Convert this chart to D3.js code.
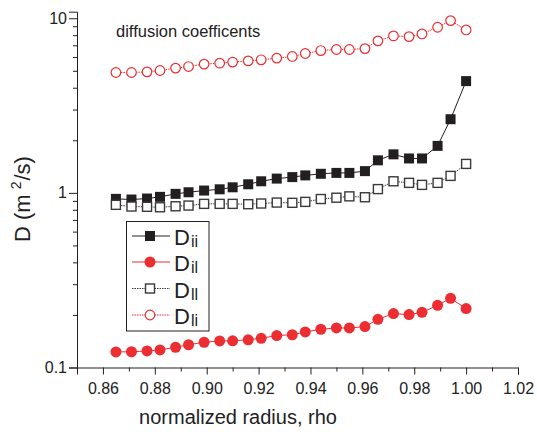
<!DOCTYPE html>
<html><head><meta charset="utf-8">
<script src="https://cdn.jsdelivr.net/npm/d3@7"></script>
<style>body{margin:0;background:#fff}text{font-family:Arial,"Liberation Sans",sans-serif}</style>
</head><body><svg id="c" width="537" height="432"></svg>
<script>
const rho = [0.865,0.871,0.877,0.882,0.888,0.893,0.899,0.905,0.910,0.916,0.921,0.927,0.933,0.938,0.944,0.950,0.955,0.961,0.966,0.972,0.978,0.983,0.989,0.994,1.000];
const Dii = [0.924,0.916,0.928,0.949,0.987,1.008,1.031,1.048,1.076,1.120,1.165,1.207,1.231,1.259,1.286,1.301,1.301,1.332,1.536,1.662,1.574,1.574,1.858,2.641,4.365];
const Dil = [0.1228,0.1231,0.1244,0.1261,0.1306,0.1350,0.1395,0.1419,0.1422,0.1441,0.1470,0.1524,0.1540,0.1598,0.1656,0.1684,0.1684,0.1715,0.1888,0.2035,0.2009,0.2070,0.2270,0.2489,0.2174];
const Dll = [0.854,0.835,0.832,0.827,0.838,0.846,0.865,0.865,0.865,0.861,0.869,0.880,0.877,0.888,0.922,0.938,0.955,0.944,1.051,1.165,1.141,1.111,1.141,1.251,1.465];
const Dli = [4.89,4.89,4.93,5.02,5.18,5.29,5.46,5.53,5.61,5.70,5.78,5.91,6.04,6.28,6.53,6.62,6.62,6.70,7.42,7.92,7.85,8.13,8.88,9.69,8.57];
const xTicks = [0.86,0.88,0.90,0.92,0.94,0.96,0.98,1.00,1.02];
const xMinor = [0.87,0.89,0.91,0.93,0.95,0.97,0.99,1.01];
const yTicks = [0.1,1,10];
const yTickLabels = ["0.1","1","10"];
const seriesNames = ["ii","il","ll","li"];
const title = "diffusion coefficents";
const xTitle = "normalized radius, rho";

const RED = "#ec2d32", BLK = "#231f20", GRY = "#3a3a3a";
const svg = d3.select("#c");
const x = d3.scaleLinear().domain([0.85,1.02]).range([77,518]);
const y = d3.scaleLog().domain([0.1,10.9]).range([367.5,11.7]);

// axes
const xa = svg.append("g").attr("transform","translate(0,"+y(0.1)+")");
xa.call(d3.axisBottom(x).tickValues(xTicks).tickSize(7).tickFormat(d3.format(".2f")));
xa.append("g").call(d3.axisBottom(x).tickValues(xMinor).tickSize(4).tickFormat(""));
xa.selectAll(".domain").attr("stroke",BLK);
xa.selectAll("g g .domain").remove();
xa.selectAll("line").attr("stroke",BLK);
xa.selectAll("text").attr("font-size",16).attr("fill","#222").attr("dy","1.05em").style("font-family","Arial, Liberation Sans");

const ya = svg.append("g").attr("transform","translate("+x(0.85)+",0)");
ya.call(d3.axisLeft(y).tickValues(yTicks).tickSize(8).tickFormat((d,i)=>yTickLabels[i]));
const yMinor = [];
[0.1,1].forEach(b=>{for(let k=2;k<=9;k++) yMinor.push(b*k);});
ya.append("g").call(d3.axisLeft(y).tickValues(yMinor).tickSize(4).tickFormat(""));
ya.selectAll("g g .domain").remove();
ya.selectAll(".domain").attr("stroke",BLK);
ya.selectAll("line").attr("stroke",BLK);
ya.selectAll("text").attr("font-size",16).attr("fill","#222").attr("x",-10).style("font-family","Arial, Liberation Sans");

// titles
svg.append("text").attr("x",116).attr("y",37).attr("font-size",16.5).attr("fill","#222").text(title);
svg.append("text").attr("x",238).attr("y",424).attr("text-anchor","middle").attr("font-size",20).attr("fill","#222").text(xTitle);
const yt = svg.append("text").attr("transform","translate(30,199) rotate(-90)").attr("text-anchor","middle").attr("font-size",22).attr("fill","#222");
yt.append("tspan").text("D (m");
yt.append("tspan").attr("font-size",14).attr("dy",-9).attr("dx",5).text("2");
yt.append("tspan").attr("dy",9).attr("dx",1).text("/s)");

const line = d3.line().x(d=>x(d[0])).y(d=>y(d[1]));
function series(vals, stroke, dash){
  const pts = rho.map((r,i)=>[r,vals[i]]);
  svg.append("path").datum(pts).attr("d",line).attr("fill","none").attr("stroke",stroke).attr("stroke-width",1).attr("stroke-dasharray",dash||null);
  return pts;
}
// Dli open red circles
let p = series(Dli, RED, "1.5,1");
svg.append("g").selectAll("circle").data(p).join("circle").attr("cx",d=>x(d[0])).attr("cy",d=>y(d[1])).attr("r",4.8).attr("fill","#fff").attr("stroke",RED).attr("stroke-width",1.2);
// Dii filled squares
p = series(Dii, BLK);
svg.append("g").selectAll("rect").data(p).join("rect").attr("x",d=>x(d[0])-5).attr("y",d=>y(d[1])-5).attr("width",10).attr("height",10).attr("fill",BLK);
// Dll open squares
p = series(Dll, GRY, "1.5,1");
svg.append("g").selectAll("rect").data(p).join("rect").attr("x",d=>x(d[0])-4.5).attr("y",d=>y(d[1])-4.5).attr("width",9).attr("height",9).attr("fill","#fff").attr("stroke",GRY).attr("stroke-width",1.4);
// Dil filled red circles
p = series(Dil, RED);
svg.append("g").selectAll("circle").data(p).join("circle").attr("cx",d=>x(d[0])).attr("cy",d=>y(d[1])).attr("r",5.5).attr("fill",RED);

// legend
const lg = svg.append("g");
lg.append("rect").attr("x",126.5).attr("y",221.5).attr("width",82.5).attr("height",109.5).attr("fill","#fff").attr("stroke",BLK).attr("stroke-width",1);
const rows = [236,262,288.5,315];
const styles = [
  {stroke:BLK,dash:null,mk:"sqf"},
  {stroke:RED,dash:null,mk:"cf"},
  {stroke:GRY,dash:"1.5,1",mk:"sqo"},
  {stroke:RED,dash:"1.5,1",mk:"co"}];
seriesNames.forEach((n,i)=>{
  const s = styles[i], yy = rows[i];
  lg.append("line").attr("x1",132).attr("x2",170).attr("y1",yy).attr("y2",yy).attr("stroke",s.stroke).attr("stroke-dasharray",s.dash);
  if(s.mk==="sqf") lg.append("rect").attr("x",145).attr("y",yy-5).attr("width",10).attr("height",10).attr("fill",BLK);
  if(s.mk==="sqo") lg.append("rect").attr("x",145.5).attr("y",yy-4.5).attr("width",9).attr("height",9).attr("fill","#fff").attr("stroke",GRY).attr("stroke-width",1.4);
  if(s.mk==="cf") lg.append("circle").attr("cx",150).attr("cy",yy).attr("r",5.5).attr("fill",RED);
  if(s.mk==="co") lg.append("circle").attr("cx",150).attr("cy",yy).attr("r",4.8).attr("fill","#fff").attr("stroke",RED).attr("stroke-width",1.2);
  const t = lg.append("text").attr("x",174).attr("y",yy+9).attr("font-size",22).attr("fill","#222");
  t.append("tspan").text("D");
  t.append("tspan").attr("font-size",16).attr("dy",2).attr("dx",1).text(n);
});
</script></body></html>
